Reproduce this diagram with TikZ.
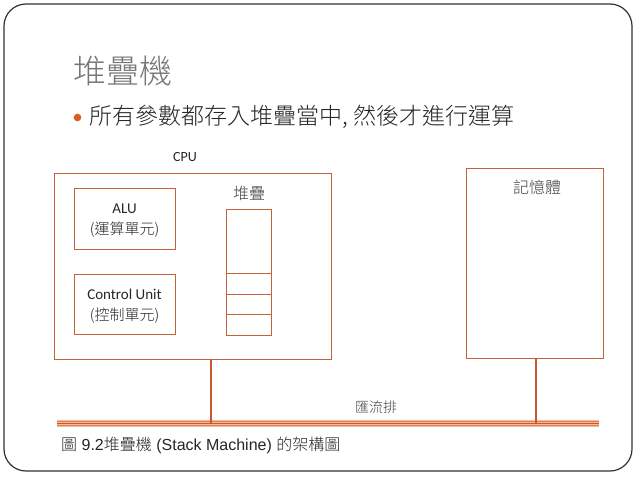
\documentclass[tikz,border=0pt]{standalone}
\usepackage{fontspec}
\setmainfont{Carlito}
\IfFontExistsTF{Noto Sans CJK TC Light}
  {\newfontfamily\cjk{Noto Sans CJK TC Light}}
  {\newfontfamily\cjk{Noto Sans CJK TC}}
\newfontfamily\arialf{Liberation Sans}
\definecolor{boxline}{RGB}{196,98,58}
\definecolor{connline}{RGB}{200,88,44}
\definecolor{buslight}{RGB}{244,184,154}
\definecolor{busmid}{RGB}{226,128,86}
\definecolor{titlegray}{RGB}{118,118,118}
\definecolor{textdark}{RGB}{38,38,38}
\definecolor{labelgray}{RGB}{64,64,64}
\definecolor{framegray}{RGB}{50,50,50}
\definecolor{bulletorange}{RGB}{214,96,36}
\begin{document}
\begin{tikzpicture}[x=1pt,y=-1pt,
  box/.style={draw=boxline, line width=1pt, inner sep=0pt},
  boxtext/.style={inner sep=0pt, align=center, text=textdark, font=\fontsize{15}{21}\selectfont},
  cell/.style={draw=boxline, line width=1pt, inner sep=0pt, minimum width=45pt},
  conn/.style={draw=connline, line width=2.6pt},
  lbl/.style={inner sep=0pt, text=labelgray}]
\useasboundingbox (0,0) rectangle (638,479);
\fill[white] (0,0) rectangle (638,479);
% slide frame
\draw[framegray, line width=1.2pt, rounded corners=22pt] (4,4) rectangle (632,471);
% title
\node[lbl, anchor=west, text=titlegray, font=\cjk\fontsize{33}{36}\selectfont] (title) at (73,71) {堆疊機};
% bullet
\fill[bulletorange] (77.5,117.5) circle (3.8pt);
\node[lbl, anchor=west, text=textdark, font=\cjk\fontsize{23}{26}\selectfont] (bullet) at (89,117) {所有參數都存入堆疊當中, 然後才進行運算};
% CPU
\node[lbl, text=textdark, font=\fontsize{14}{16}\selectfont] (cpulbl) at (185,157) {CPU};
\node[box, minimum width=277pt, minimum height=186pt] (cpu) at (192.5,266) {};
\node[box, minimum width=101pt, minimum height=61pt] (alu) at (124.5,218.5) {};
\node[boxtext] (alutxt) at (124.5,221) {ALU\\{\cjk\fontsize{15}{21}\selectfont (運算單元)}};
\node[box, minimum width=101pt, minimum height=60pt] (cu) at (124.5,304) {};
\node[boxtext] (cutxt) at (124.5,306.5) {Control Unit\\{\cjk\fontsize{15}{21}\selectfont (控制單元)}};
% stack
\node[lbl, font=\cjk\fontsize{16}{18}\selectfont] (stacklbl) at (249,193) {堆疊};
\node[cell, minimum height=64pt] (s1) at (248.5,241) {};
\node[cell, minimum height=21pt] (s2) at (248.5,283.5) {};
\node[cell, minimum height=20pt] (s3) at (248.5,304) {};
\node[cell, minimum height=21pt] (s4) at (248.5,324.5) {};
% memory
\node[box, minimum width=137pt, minimum height=190pt] (mem) at (534.5,263) {};
\node[lbl, font=\cjk\fontsize{16}{18}\selectfont] (memlbl) at (537,187) {記憶體};
% bus
\node[fill=buslight, inner sep=0pt, minimum width=542pt, minimum height=7pt] (bus) at (328,423.5) {};
\draw[busmid, line width=0.8pt] (bus.north west) ++(0,1.6) -- ++(542,0);
\draw[busmid, line width=0.8pt] (bus.south west) ++(0,-1.6) -- ++(542,0);
\draw[connline, line width=1.5pt] (bus.west) -- (bus.east);
\node[lbl, font=\cjk\fontsize{14}{16}\selectfont] (buslbl) at (376,407) {匯流排};
% connectors
\coordinate (cpuport) at (211,359);
\coordinate (memport) at (536,358);
\draw[conn] (cpuport) -- (cpuport |- bus.center);
\draw[conn] (memport) -- (memport |- bus.center);
% caption
\node[lbl, anchor=west, text=textdark, font=\fontsize{16}{18}\selectfont] (caption) at (61,445) {{\cjk 圖}\arialf{} 9.2{\cjk 堆疊機}\arialf{} (Stack Machine) {\cjk 的架構圖}};
\end{tikzpicture}
\end{document}
